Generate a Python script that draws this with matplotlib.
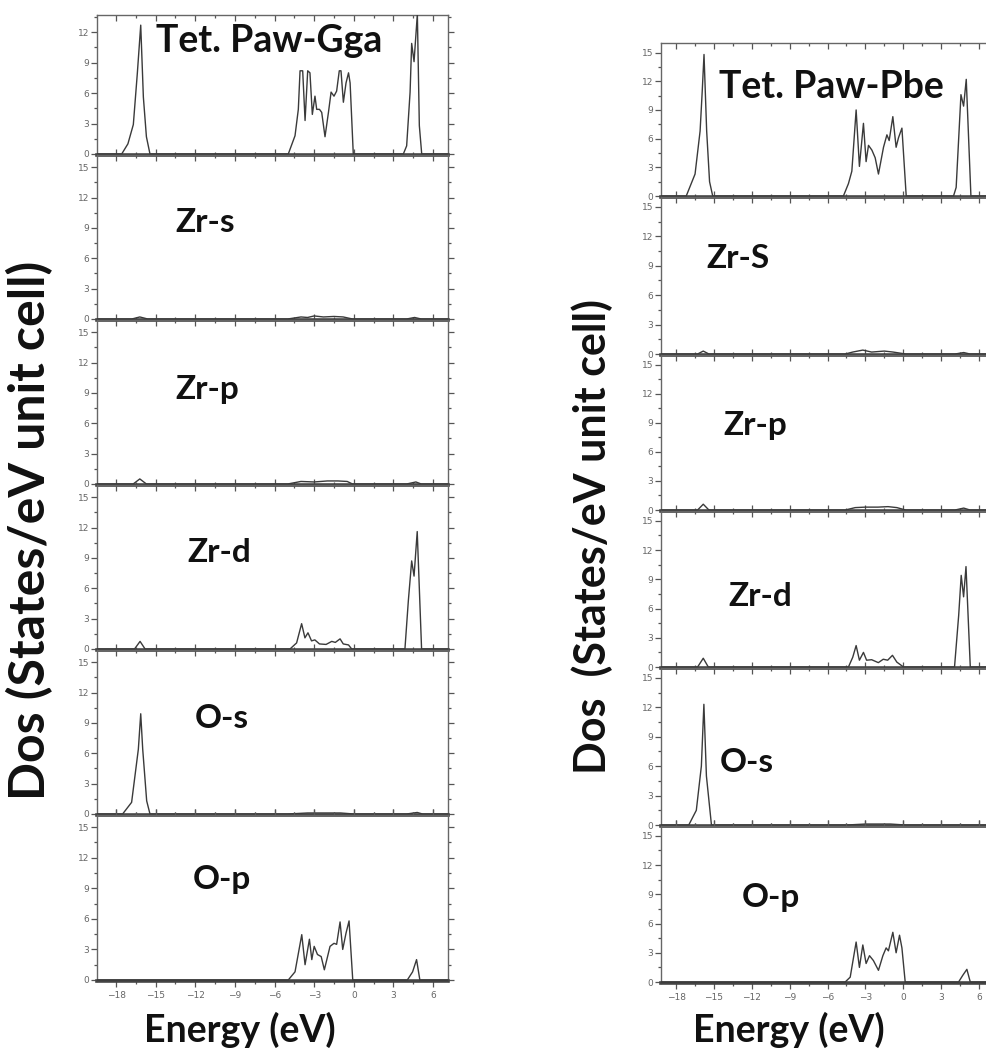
import matplotlib
matplotlib.use("Agg")
import matplotlib.pyplot as plt
from matplotlib.ticker import MultipleLocator

# ---------------- data ----------------
# Left figure: Tet. PAW-GGA
gga_tot_E = [-19.5, -17.57, -17.1, -16.69, -16.39, -16.13, -15.93, -15.7, -15.43,
             -4.96, -4.45, -4.2, -4.07, -3.87, -3.69, -3.49, -3.32, -3.14, -2.94, -2.81,
             -2.6, -2.43, -2.18, -1.92, -1.72, -1.5, -1.3, -1.1, -0.97, -0.79, -0.59,
             -0.4, -0.28, -0.04, 3.75, 4.0, 4.26, 4.38, 4.56, 4.81, 4.96, 5.14, 7.2]
gga_tot_D = [0, 0, 1.0, 2.9, 7.9, 12.7, 5.6, 1.7, 0,
             0, 1.8, 4.4, 8.2, 8.2, 3.3, 8.2, 8.0, 3.9, 5.7, 4.4,
             4.4, 4.1, 1.7, 4.1, 6.1, 5.7, 6.2, 8.2, 8.2, 5.1, 7.0,
             8.0, 7.0, 0, 0, 0.8, 6.1, 10.9, 9.1, 13.8, 2.8, 0, 0]

gga_zrs_E = [-19.5, -16.8, -16.2, -15.6, -5.0, -4.0, -3.5, -3.0, -2.3, -1.5, -0.8, -0.1, 4.0, 4.6, 5.1, 7.2]
gga_zrs_D = [0, 0, 0.2, 0, 0, 0.2, 0.15, 0.3, 0.2, 0.25, 0.2, 0, 0, 0.15, 0, 0]

gga_zrp_E = [-19.5, -16.7, -16.2, -15.7, -5.0, -4.0, -3.0, -2.0, -1.2, -0.5, -0.1, 4.0, 4.7, 5.1, 7.2]
gga_zrp_D = [0, 0, 0.5, 0, 0, 0.25, 0.2, 0.3, 0.3, 0.25, 0, 0, 0.2, 0, 0]

gga_zrd_E = [-19.5, -16.6, -16.18, -15.8, -4.83, -4.33, -3.95, -3.7, -3.47, -3.2, -2.95,
             -2.6, -2.1, -1.67, -1.4, -1.04, -0.8, -0.4, -0.16, 3.87, 4.13, 4.38, 4.56,
             4.8, 5.13, 7.2]
gga_zrd_D = [0, 0, 0.75, 0, 0, 0.6, 2.5, 1.1, 1.6, 0.8, 0.9,
             0.5, 0.45, 0.75, 0.65, 1.0, 0.5, 0.4, 0, 0, 4.8, 8.7, 7.2,
             11.6, 0, 0]

gga_os_E = [-19.5, -17.5, -16.82, -16.31, -16.13, -15.98, -15.68, -15.43, -5.0, -3.5, -1.0, 0.0, 4.0, 4.8, 5.2, 7.2]
gga_os_D = [0, 0, 1.15, 6.4, 9.9, 6.4, 1.3, 0, 0, 0.1, 0.1, 0, 0, 0.15, 0, 0]

gga_op_E = [-19.5, -4.96, -4.45, -3.94, -3.69, -3.36, -3.18, -3.0, -2.75, -2.47, -2.23,
            -1.8, -1.5, -1.3, -1.04, -0.84, -0.59, -0.36, -0.08, 4.05, 4.45, 4.75, 5.0, 7.2]
gga_op_D = [0, 0, 0.8, 4.45, 1.5, 4.0, 2.0, 3.3, 2.5, 2.3, 1.0,
            3.3, 3.6, 3.5, 5.7, 3.0, 4.6, 5.8, 0, 0, 0.8, 2.0, 0, 0]

# Right figure: Tet. PAW-PBE
pbe_tot_E = [-19.2, -17.2, -16.5, -16.1, -15.93, -15.79, -15.58, -15.35, -15.1,
             -4.74, -4.34, -4.07, -3.73, -3.47, -3.15, -2.94, -2.75, -2.48, -2.22, -1.96,
             -1.56, -1.29, -1.11, -0.82, -0.56, -0.37, -0.1, 0.24,
             3.99, 4.2, 4.58, 4.79, 5.0, 5.37, 7.2]
pbe_tot_D = [0, 0, 2.3, 6.8, 11.0, 14.8, 6.8, 1.5, 0,
             0, 1.3, 2.6, 9.0, 3.1, 7.6, 3.6, 5.3, 4.8, 4.0, 2.3,
             5.1, 6.4, 5.8, 8.3, 5.1, 6.1, 7.1, 0,
             0, 0.9, 10.6, 9.4, 12.2, 0, 0]

pbe_zrs_E = [-19.2, -16.3, -15.85, -15.4, -4.6, -4.0, -3.2, -2.5, -1.5, -0.8, 0.2, 4.1, 4.8, 5.3, 7.2]
pbe_zrs_D = [0, 0, 0.3, 0, 0, 0.2, 0.4, 0.2, 0.3, 0.2, 0, 0, 0.15, 0, 0]

pbe_zrp_E = [-19.2, -16.3, -15.85, -15.4, -4.6, -3.8, -3.0, -2.0, -1.2, -0.5, 0.2, 4.1, 4.8, 5.3, 7.2]
pbe_zrp_D = [0, 0, 0.6, 0, 0, 0.25, 0.3, 0.3, 0.35, 0.25, 0, 0, 0.2, 0, 0]

pbe_zrd_E = [-19.2, -16.3, -15.85, -15.45, -4.34, -4.0, -3.73, -3.47, -3.15, -2.9, -2.5,
             -1.97, -1.58, -1.23, -0.85, -0.5, 0.03, 4.07, 4.4, 4.6, 4.79, 4.98, 5.32, 7.2]
pbe_zrd_D = [0, 0, 0.9, 0, 0, 1.0, 2.2, 0.7, 1.5, 0.7, 0.75,
             0.45, 0.8, 0.7, 1.2, 0.5, 0, 0, 5.3, 9.4, 7.2, 10.3, 0, 0]

pbe_os_E = [-19.2, -17.0, -16.4, -16.0, -15.8, -15.6, -15.2, -4.5, -3.0, -1.0, 0.2, 7.2]
pbe_os_D = [0, 0, 1.5, 6.0, 12.3, 5.0, 0, 0, 0.1, 0.1, 0, 0]

pbe_op_E = [-19.2, -4.6, -4.2, -3.73, -3.47, -3.2, -2.94, -2.67, -2.36, -1.96, -1.61,
            -1.35, -1.17, -0.82, -0.56, -0.29, -0.1, 0.16, 4.39, 4.73, 5.05, 5.32, 7.2]
pbe_op_D = [0, 0, 0.5, 4.1, 1.5, 3.8, 1.9, 2.7, 2.2, 1.2, 2.7,
            3.5, 3.2, 5.1, 3.0, 4.8, 3.5, 0, 0, 0.7, 1.3, 0, 0]

gga_labels = ["Tet. Paw-Gga", "Zr-s", "Zr-p", "Zr-d", "O-s", "O-p"]
pbe_labels = ["Tet. Paw-Pbe", "Zr-S", "Zr-p", "Zr-d", "O-s", "O-p"]
x_ticks = [-18, -15, -12, -9, -6, -3, 0, 3, 6]

gga_series = [(gga_tot_E, gga_tot_D), (gga_zrs_E, gga_zrs_D), (gga_zrp_E, gga_zrp_D),
              (gga_zrd_E, gga_zrd_D), (gga_os_E, gga_os_D), (gga_op_E, gga_op_D)]
pbe_series = [(pbe_tot_E, pbe_tot_D), (pbe_zrs_E, pbe_zrs_D), (pbe_zrp_E, pbe_zrp_D),
              (pbe_zrd_E, pbe_zrd_D), (pbe_os_E, pbe_os_D), (pbe_op_E, pbe_op_D)]

# ---------------- layout ----------------
W, H = 987, 1055
fig = plt.figure(figsize=(W / 100, H / 100), dpi=100)
fig.patch.set_facecolor("white")

LFONT = ["Lato", "DejaVu Sans"]


def make_panel(x0, x1, y0, y1, xlim, ylim, yticks, show_x):
    ax = fig.add_axes([x0 / W, 1 - y1 / H, (x1 - x0) / W, (y1 - y0) / H])
    ax.set_xlim(*xlim)
    ax.set_ylim(*ylim)
    ax.set_facecolor("none")
    ax.xaxis.set_major_locator(MultipleLocator(3))
    ax.xaxis.set_minor_locator(MultipleLocator(1.5))
    ax.set_yticks(yticks)
    ax.yaxis.set_minor_locator(MultipleLocator(1.5))
    ax.tick_params(axis="both", which="both", colors="#555555", labelcolor="#666666",
                   labelsize=6.5, width=0.9)
    ax.tick_params(axis="x", which="both", bottom=True, top=True, direction="in")
    ax.tick_params(axis="y", which="both", left=True, right=True, direction="in")
    ax.tick_params(axis="y", which="both", left=True, direction="out")
    ax.tick_params(which="major", length=4)
    ax.tick_params(which="minor", length=2)
    ax.tick_params(axis="y", pad=1.5)
    ax.tick_params(axis="x", pad=3, labelbottom=show_x)
    if show_x:
        ax.tick_params(axis="x", which="both", direction="out")
        ax.set_xticks(x_ticks)
    for s in ["left", "right", "top"]:
        ax.spines[s].set_color("#666666")
        ax.spines[s].set_linewidth(1.0)
    ax.spines["bottom"].set_color("#444444")
    ax.spines["bottom"].set_linewidth(2.6)
    return ax


# left figure
left_edges = [15, 155, 320, 485, 650, 815, 981]
left_xlim = (-19.44, 7.13)
for i, (E, D) in enumerate(gga_series):
    if i == 0:
        ylim, yt = (-0.1, 13.7), [0, 3, 6, 9, 12]
    else:
        ylim, yt = (-0.1, 16.2), [0, 3, 6, 9, 12, 15]
    ax = make_panel(97, 448, left_edges[i], left_edges[i + 1], left_xlim, ylim, yt, i == 5)
    ax.plot(E, D, color="#3a3a3a", lw=1.0, zorder=3)

# right figure (extends past right edge of the image, as in the reference)
right_edges = [43, 197, 355, 511, 668, 826, 983]
right_xlim = (-19.2, 7.2)
for i, (E, D) in enumerate(pbe_series):
    ax = make_panel(661, 994, right_edges[i], right_edges[i + 1], right_xlim,
                    (-0.1, 16.0), [0, 3, 6, 9, 12, 15], i == 5)
    ax.plot(E, D, color="#3a3a3a", lw=1.0, zorder=3)

# panel labels
gga_pos = [(269, 41, 27), (205, 222, 24), (207, 390, 24), (219, 552, 24), (222, 718, 24), (222, 880, 24)]
pbe_pos = [(831, 87, 27), (738, 258, 24), (755, 425, 24), (760, 597, 24), (747, 762, 24), (771, 898, 24)]
for lab, (x, y, fs) in zip(gga_labels, gga_pos):
    fig.text(x / W, 1 - y / H, lab, ha="center", va="center", fontsize=fs,
             fontweight="bold", family=LFONT, color="#111111")
for lab, (x, y, fs) in zip(pbe_labels, pbe_pos):
    fig.text(x / W, 1 - y / H, lab, ha="center", va="center", fontsize=fs,
             fontweight="bold", family=LFONT, color="#111111")

# axis titles
fig.text(30 / W, 1 - 530 / H, "Dos (States/eV unit cell)", rotation=90, ha="center",
         va="center", fontsize=36, fontweight="bold", family=LFONT, color="#111111")
fig.text(592 / W, 1 - 537 / H, "Dos  (States/eV unit cell)", rotation=90, ha="center",
         va="center", fontsize=31, fontweight="bold", family=LFONT, color="#111111")
fig.text(240 / W, 1 - 1030 / H, "Energy (eV)", ha="center", va="center", fontsize=27,
         fontweight="bold", family=LFONT, color="#111111")
fig.text(789 / W, 1 - 1030 / H, "Energy (eV)", ha="center", va="center", fontsize=27,
         fontweight="bold", family=LFONT, color="#111111")

fig.savefig("out.png", dpi=100, facecolor="white")
